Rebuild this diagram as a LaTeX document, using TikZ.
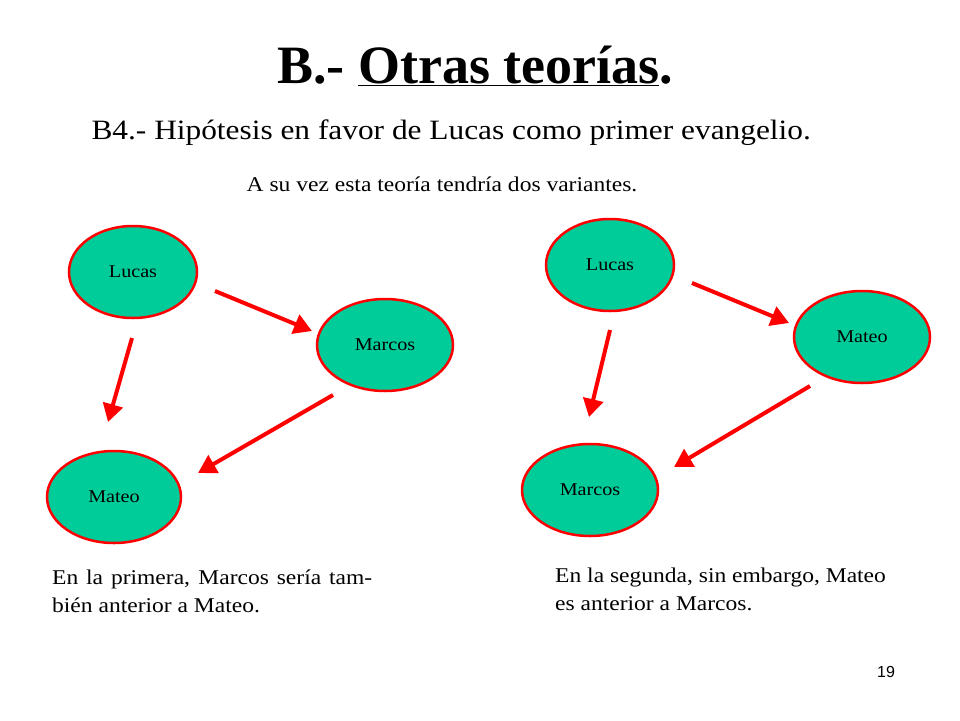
\documentclass[tikz,border=0pt]{standalone}
\usepackage{fontspec}
\setmainfont{Liberation Serif}[FakeStretch=1.12]
\newfontfamily\titlefont{Liberation Serif}
\newfontfamily\numfont{Liberation Sans}
\usepackage{xcolor}
\usetikzlibrary{arrows.meta,shapes.geometric}
\definecolor{evgreen}{HTML}{00CC99}
\definecolor{evred}{HTML}{FF0000}
\tikzset{
  gospel/.style={ellipse, draw=evred, line width=2.5pt, fill=evgreen,
    minimum width=#1, minimum height=92pt, font=\fontsize{18}{20}\selectfont},
  gospel/.default=130pt,
  prior/.style={draw=evred, line width=4pt, -{Triangle[length=18pt,width=20pt]}}
}
\begin{document}
\begin{tikzpicture}[x=1pt,y=-1pt]
  \useasboundingbox (0,0) rectangle (960,720);

  \node (title) at (475,66) {\titlefont\bfseries\fontsize{54}{60}\selectfont B.- \underline{Otras teorías}.};
  \node[anchor=west] (sub) at (88,133) {\fontsize{28}{30}\selectfont B4.- Hipótesis en favor de Lucas como primer evangelio.};
  \node (var) at (442,184) {\fontsize{21}{24}\selectfont A su vez esta teoría tendría dos variantes.};

  %% primera variante
  \node[gospel=128pt] (lucasA) at (133,272) {Lucas};
  \node[gospel=136pt] (marcosA) at (385,345) {Marcos};
  \node[gospel=134pt] (mateoA) at (114,497) {Mateo};

  \coordinate (a1) at (215,291); \coordinate (a2) at (312,331);
  \coordinate (b1) at (132,338); \coordinate (b2) at (108,422);
  \coordinate (c1) at (333,395); \coordinate (c2) at (198,473);
  \draw[prior] (a1) -- (a2);
  \draw[prior] (b1) -- (b2);
  \draw[prior] (c1) -- (c2);

  %% segunda variante
  \node[gospel=128pt] (lucasB) at (610,265) {Lucas};
  \node[gospel=136pt] (mateoB) at (862,337) {Mateo};
  \node[gospel=136pt] (marcosB) at (590,490) {Marcos};

  \coordinate (d1) at (692,283); \coordinate (d2) at (789,323);
  \coordinate (e1) at (610,330); \coordinate (e2) at (589,417);
  \coordinate (f1) at (810,386); \coordinate (f2) at (674,467);
  \draw[prior] (d1) -- (d2);
  \draw[prior] (e1) -- (e2);
  \draw[prior] (f1) -- (f2);

  \node[anchor=north west, inner sep=0pt] (txtA) at (52,570)
    {\parbox{320pt}{\fontsize{21}{28}\selectfont En la primera, Marcos sería también anterior a Mateo.}};
  \node[anchor=north west, inner sep=0pt] (txtB) at (555,568)
    {\parbox{360pt}{\raggedright\fontsize{21}{28}\selectfont En la segunda, sin embargo, Mateo\\ es anterior a Marcos.}};

  \node (num) at (886,672) {\numfont\fontsize{16}{18}\selectfont 19};
\end{tikzpicture}
\end{document}
